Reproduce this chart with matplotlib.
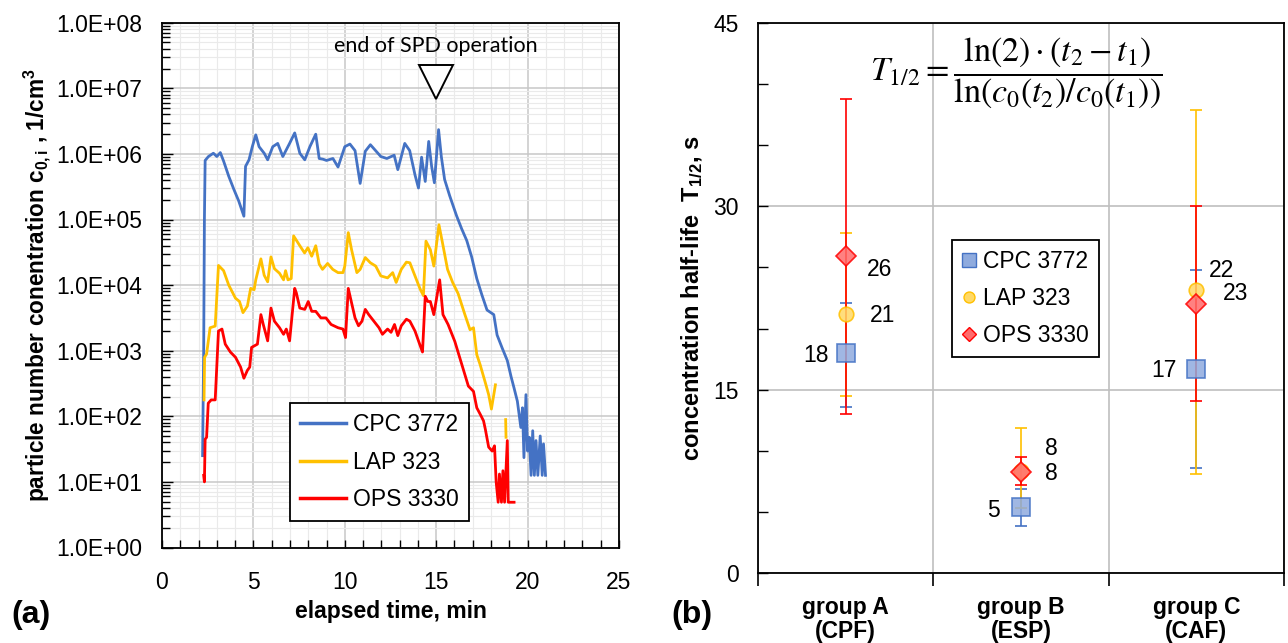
import numpy as np
import matplotlib
matplotlib.use('Agg')
import matplotlib.pyplot as plt
from matplotlib.ticker import LogLocator, NullFormatter, FuncFormatter, MultipleLocator, FixedLocator
from matplotlib.lines import Line2D

plt.rcParams['font.family'] = ['Liberation Sans', 'DejaVu Sans']
plt.rcParams['mathtext.fontset'] = 'custom'
plt.rcParams['mathtext.rm'] = 'Liberation Sans'
plt.rcParams['mathtext.it'] = 'Liberation Sans:italic'
plt.rcParams['mathtext.bf'] = 'Liberation Sans:bold'

# ---- (a) particle number concentration, log10 values ----
t_cpc = [2.22, 2.28, 2.32, 2.36, 2.54, 2.81, 3.0, 3.19, 3.37, 3.65,
         3.93, 4.2, 4.48, 4.57, 4.76, 4.94, 5.13, 5.31, 5.59, 5.78,
         6.06, 6.33, 6.61, 6.98, 7.26, 7.54, 7.81, 8.09, 8.41, 8.6,
         8.8, 9.0, 9.35, 9.63, 10.0, 10.28, 10.56, 10.84, 11.12, 11.4,
         11.97, 12.3, 12.7, 12.9, 13.28, 13.55, 13.84, 14.03, 14.2, 14.4,
         14.59, 14.75, 14.9, 15.13, 15.28, 15.46, 15.74, 16.11, 16.39, 16.67,
         16.94, 17.22, 17.5, 17.78, 18.15, 18.33, 18.61, 18.89, 19.1, 19.26,
         19.44, 19.63, 19.72, 19.8, 19.91, 20.0, 20.09, 20.19, 20.28, 20.37,
         20.46, 20.56, 20.69, 20.8, 20.87, 20.98]
log_cpc = [1.4, 3.0, 5.0, 5.9, 5.96, 6.01, 5.96, 6.02, 5.89, 5.66,
           5.46, 5.28, 5.05, 5.81, 5.91, 6.11, 6.29, 6.11, 6.01, 5.91,
           6.11, 6.16, 5.96, 6.16, 6.32, 6.01, 5.91, 6.11, 6.3, 5.93,
           5.92, 5.9, 5.93, 5.8, 6.11, 6.15, 6.05, 5.55, 6.04, 6.14,
           5.96, 5.93, 5.98, 5.76, 6.16, 6.05, 5.68, 5.48, 5.95, 5.58,
           6.19, 5.81, 5.56, 6.37, 5.96, 5.61, 5.36, 5.06, 4.86, 4.68,
           4.43, 4.1, 3.85, 3.62, 3.55, 3.24, 3.04, 2.85, 2.6, 2.43,
           2.23, 1.83, 2.13, 1.37, 2.33, 1.47, 1.68, 1.1, 1.78, 1.1,
           1.63, 1.1, 1.7, 1.1, 1.58, 1.1]

t_lap = [2.3, 2.33, 2.44, 2.63, 2.91, 3.09, 3.37, 3.65, 4.02, 4.24,
         4.43, 4.67, 4.85, 5.04, 5.13, 5.41, 5.59, 5.78, 5.96, 6.15,
         6.43, 6.65, 6.76, 6.89, 7.07, 7.2, 7.54, 7.8, 7.98, 8.19,
         8.41, 8.6, 8.78, 9.06, 9.34, 9.63, 9.9, 10.0, 10.19, 10.37,
         10.66, 10.84, 11.12, 11.4, 11.69, 11.97, 12.34, 12.62, 12.81, 13.09,
         13.37, 13.56, 13.84, 14.12, 14.3, 14.44, 14.68, 14.87, 15.15, 15.34,
         15.62, 15.9, 16.2, 16.57, 16.85, 17.04, 17.22, 17.4, 17.69, 17.87,
         18.02, 18.24]
log_lap = [2.25, 2.9, 2.95, 3.35, 3.375, 4.3, 4.22, 4.0, 3.8, 3.75,
           3.58, 3.68, 3.95, 3.93, 4.08, 4.4, 4.15, 4.05, 4.43, 4.25,
           4.18, 4.08, 4.22, 4.08, 4.1, 4.75, 4.6, 4.49, 4.57, 4.44,
           4.6, 4.32, 4.24, 4.33, 4.24, 4.19, 4.19, 4.29, 4.8, 4.54,
           4.19, 4.24, 4.42, 4.34, 4.29, 4.14, 4.11, 4.19, 4.04, 4.24,
           4.35, 4.34, 4.14, 3.94, 3.84, 4.67, 4.54, 4.29, 4.92, 4.65,
           4.24, 4.04, 3.87, 3.55, 3.32, 3.35, 2.94, 2.79, 2.51, 2.33,
           2.11, 2.48]
t_lap_tail = [18.8, 18.82]
log_lap_tail = [1.95, 1.68]

t_ops = [2.28, 2.32, 2.36, 2.44, 2.53, 2.69, 2.91, 3.09, 3.28, 3.46,
         3.74, 4.02, 4.3, 4.48, 4.67, 4.8, 4.9, 5.22, 5.41, 5.54,
         5.78, 5.96, 6.15, 6.43, 6.65, 6.8, 6.98, 7.26, 7.35, 7.54,
         7.81, 8.0, 8.19, 8.41, 8.69, 8.97, 9.25, 9.63, 9.9, 10.04,
         10.19, 10.37, 10.56, 10.75, 10.94, 11.12, 11.31, 11.59, 11.87, 12.06,
         12.34, 12.53, 12.72, 12.9, 13.09, 13.37, 13.56, 13.84, 14.12, 14.25,
         14.4, 14.54, 14.68, 14.87, 15.19, 15.37, 15.65, 16.02, 16.39, 16.76,
         17.04, 17.22, 17.41, 17.59, 17.69, 17.87, 18.06, 18.19, 18.28, 18.39,
         18.46, 18.57, 18.65, 18.74, 18.89, 18.94, 19.26]
log_ops = [1.1, 1.0, 1.65, 1.68, 2.2, 2.25, 2.25, 3.3, 3.33, 3.1,
           2.98, 2.9, 2.75, 2.58, 2.7, 2.75, 3.05, 3.1, 3.55, 3.4,
           3.15, 3.65, 3.45, 3.35, 3.25, 3.33, 3.15, 3.95, 3.88, 3.65,
           3.63, 3.75, 3.6, 3.6, 3.5, 3.5, 3.4, 3.35, 3.33, 3.2,
           3.95, 3.73, 3.5, 3.38, 3.45, 3.63, 3.55, 3.45, 3.35, 3.25,
           3.33, 3.28, 3.4, 3.23, 3.38, 3.48, 3.45, 3.3, 3.08, 2.98,
           3.83, 3.75, 3.75, 3.55, 4.08, 3.55, 3.4, 3.14, 2.8, 2.46,
           2.38, 2.13, 2.03, 1.93, 1.8, 1.53, 1.47, 1.55, 1.0, 0.69,
           1.12, 0.69, 1.17, 0.69, 1.63, 0.69, 0.69]

spd_end = 15  # min

# ---- (b) concentration half-life ----
groups = ['group A\n(CPF)', 'group B\n(ESP)', 'group C\n(CAF)']
cpc_half = [18.0, 5.4, 16.7]
cpc_lo = [13.6, 3.9, 8.6]
cpc_hi = [22.1, 6.9, 24.8]
lap_half = [21.2, 8.4, 23.15]
lap_lo = [14.5, 5.3, 8.1]
lap_hi = [27.8, 11.9, 37.9]
ops_half = [25.9, 8.3, 22.0]
ops_lo = [13.0, 7.2, 14.1]
ops_hi = [38.8, 9.5, 30.0]

names = ['CPC 3772', 'LAP 323', 'OPS 3330']
blue, yellow, red = '#4472C4', '#FFC000', '#FF0000'

fig = plt.figure(figsize=(12.88, 6.43), dpi=100)
ax1 = fig.add_axes([162 / 1288, 1 - 547.5 / 643, 457 / 1288, 524.8 / 643])
ax2 = fig.add_axes([758 / 1288, 1 - 573.3 / 643, 526 / 1288, 550.6 / 643])

# ------------------ panel (a) ------------------
ax1.plot(t_cpc, 10 ** np.array(log_cpc), color=blue, lw=2.0, label=names[0], zorder=3)
ax1.plot(t_lap, 10 ** np.array(log_lap), color=yellow, lw=2.0, label=names[1], zorder=4)
ax1.plot(t_lap_tail, 10 ** np.array(log_lap_tail), color=yellow, lw=2.0, zorder=4)
ax1.plot(t_ops, 10 ** np.array(log_ops), color=red, lw=2.0, label=names[2], zorder=5)

ax1.set_yscale('log')
ax1.set_xlim(0, 25)
ax1.set_ylim(1, 1e8)
ax1.yaxis.set_major_locator(LogLocator(base=10, numticks=20))
ax1.yaxis.set_minor_locator(LogLocator(base=10, subs=np.arange(2, 10), numticks=20))
ax1.yaxis.set_minor_formatter(NullFormatter())
ax1.yaxis.set_major_formatter(FuncFormatter(lambda v, p: f"{v:.1E}"))
ax1.xaxis.set_major_locator(MultipleLocator(5))
ax1.xaxis.set_minor_locator(MultipleLocator(1))
ax1.grid(which='major', color='#C8C8C8', lw=1.1, zorder=0)
ax1.grid(which='minor', color='#EAEAEA', lw=0.8, zorder=0)
ax1.set_axisbelow(True)
ax1.tick_params(axis='both', which='both', direction='in', labelsize=16.5, width=1)
ax1.tick_params(axis='y', which='major', length=8, pad=14)
ax1.tick_params(axis='y', which='minor', length=6)
ax1.tick_params(axis='x', which='both', length=6, pad=17)
for s in ax1.spines.values():
    s.set_color('black')
    s.set_linewidth(1.3)

ax1.set_xlabel('elapsed time, min', fontsize=16.5, fontweight='bold')
ax1.xaxis.set_label_coords(0.5, -0.1)
ax1.set_ylabel(r'particle number conentration c$_\mathbf{0,i}$ , 1/cm$^\mathbf{3}$',
               fontsize=16.3, fontweight='bold')
ax1.yaxis.set_label_coords(-0.238, 0.5)

leg1 = ax1.legend(loc='upper left', bbox_to_anchor=(0.28, 0.275), borderaxespad=0,
                  fontsize=16.5, handlelength=2.0, handletextpad=0.3, labelspacing=0.62,
                  borderpad=0.45, fancybox=False, edgecolor='black', framealpha=1)
leg1.get_frame().set_linewidth(1.3)
for h in leg1.get_lines():
    h.set_linewidth(2.5)

ax1.plot([spd_end], [10 ** 7.1], marker='v', ms=25, mfc='white', mec='black', mew=1.4,
         ls='none', zorder=6)
ax1.text(spd_end, 10 ** 7.65, 'end of SPD operation', ha='center', va='center',
         fontsize=15.5, family=['Lato', 'DejaVu Sans'])

fig.text(31 / 1288, 1 - 615 / 643, '(a)', fontsize=23, fontweight='bold', ha='center', va='center')
fig.text(692 / 1288, 1 - 615 / 643, '(b)', fontsize=23, fontweight='bold', ha='center', va='center')

# ------------------ panel (b) ------------------
xc = np.arange(len(groups)) + 0.5
series = [
    (cpc_half, cpc_lo, cpc_hi, blue, 's', 12.5, (0.56, 0.67, 0.87), 3),
    (lap_half, lap_lo, lap_hi, yellow, 'o', 10.5, (1.0, 0.85, 0.40), 4),
    (ops_half, ops_lo, ops_hi, red, 'D', 10, (1.0, 0.42, 0.42), 5),
]
for vals, lo, hi, col, mk, ms, fc, z in series:
    v = np.array(vals)
    yerr = [v - np.array(lo), np.array(hi) - v]
    ax2.errorbar(xc, v, yerr=yerr, fmt='none', ecolor=col, elinewidth=1.2,
                 capsize=4.5, capthick=1.2, zorder=z)
for vals, lo, hi, col, mk, ms, fc, z in series:
    ax2.plot(xc, vals, ls='none', marker=mk, ms=ms, mfc=fc, mec=col, mew=1.2,
             alpha=0.85, zorder=z + 5)

# value labels: offset in pixels (dx, dy), alignment
lab_offsets = [
    [(-17, -2, 'right'), (-21, -3, 'right'), (-20, -2, 'right')],
    [(24, -2, 'left'), (24, 22, 'left'), (27, -3, 'left')],
    [(21, -13, 'left'), (24, -2, 'left'), (13, 34, 'left')],
]
for (vals, *_), offs in zip(series, lab_offsets):
    for x, v, (dx, dy, ha) in zip(xc, vals, offs):
        ax2.annotate(f"{v:.0f}", (x, v), xytext=(dx * 0.72, dy * 0.72),
                     textcoords='offset points', ha=ha, va='center', fontsize=16.5)

ax2.set_xlim(0, 3)
ax2.set_ylim(0, 45)
ax2.yaxis.set_major_locator(MultipleLocator(15))
ax2.yaxis.set_minor_locator(MultipleLocator(5))
ax2.xaxis.set_major_locator(FixedLocator([0, 1, 2, 3]))
ax2.xaxis.set_major_formatter(NullFormatter())
ax2.xaxis.set_minor_locator(FixedLocator(xc))
ax2.set_xticklabels(groups, minor=True, fontsize=16.5, fontweight='bold', linespacing=1.1)
ax2.grid(which='major', color='#BFBFBF', lw=1.2, zorder=0)
ax2.set_axisbelow(True)
ax2.tick_params(axis='y', which='both', direction='in', length=7, width=1,
                labelsize=16.5, pad=14)
ax2.tick_params(axis='x', which='major', direction='out', length=9, width=1.2)
ax2.tick_params(axis='x', which='minor', length=0, pad=16)
for s in ax2.spines.values():
    s.set_color('black')
    s.set_linewidth(1.3)

ax2.set_ylabel(r'concentration half-life  T$_\mathbf{1/2}$, s', fontsize=17,
               fontweight='bold')
ax2.yaxis.set_label_coords(-0.10, 0.5)

handles = [Line2D([], [], ls='none', marker=mk, ms=ms * 0.75, mfc=fc, mec=col, mew=1.0)
           for _, _, _, col, mk, ms, fc, _ in series]
leg2 = ax2.legend(handles, names, loc='upper left', bbox_to_anchor=(0.369, 0.605),
                  borderaxespad=0, fontsize=16.5, handlelength=0.6, handletextpad=0.3,
                  labelspacing=0.6, borderpad=0.45, fancybox=False, edgecolor='black',
                  framealpha=1)
leg2.get_frame().set_linewidth(1.3)

ax2.text(0.49, 0.909,
         r'$T_{1/2} = \dfrac{\ln(2)\cdot(t_2 - t_1)}{\ln(c_0(t_2)/c_0(t_1))}$',
         transform=ax2.transAxes, ha='center', va='center', fontsize=24.5,
         math_fontfamily='stix')

fig.savefig('out.png', dpi=100)
